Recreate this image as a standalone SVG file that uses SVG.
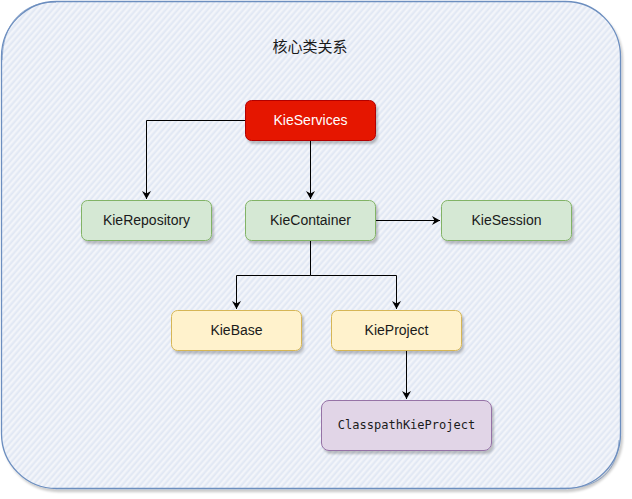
<svg xmlns="http://www.w3.org/2000/svg" width="632" height="499" viewBox="0 0 632 499">
<defs>
<style>
.node rect{filter:url(#sh);}
.lbl{font-family:"Liberation Sans",Arial,sans-serif;font-size:14px;text-anchor:middle;dominant-baseline:central;fill:#1a1a1a;}
.mono{font-family:"DejaVu Sans Mono","Liberation Mono",monospace;font-size:12px;text-anchor:middle;dominant-baseline:central;fill:#1a1a1a;}
.green{fill:#d5e8d4;stroke:#82b366;stroke-width:1;}
.yellow{fill:#fff2cc;stroke:#d6b656;stroke-width:1;}
.purple{fill:#e1d5e7;stroke:#9673a6;stroke-width:1;}
.red{fill:#e51400;stroke:#b20000;stroke-width:1;}
.edge{fill:none;stroke:#000;stroke-width:1;marker-end:url(#arr);}
</style>
<filter id="sh" x="-10%" y="-10%" width="130%" height="140%">
<feDropShadow dx="2" dy="3" stdDeviation="1.2" flood-color="#000" flood-opacity="0.22"/>
</filter>
<filter id="shb" x="-5%" y="-5%" width="110%" height="110%">
<feDropShadow dx="2" dy="3" stdDeviation="1" flood-color="#000" flood-opacity="0.2"/>
</filter>
<pattern id="hatch" width="4.5" height="4.5" patternUnits="userSpaceOnUse" patternTransform="rotate(-49)">
<rect width="4.5" height="4.5" fill="#eef1f7"/>
<line x1="0" y1="1" x2="4.5" y2="1" stroke="#d9e3f3" stroke-width="1"/>
<line x1="0" y1="3.2" x2="4.5" y2="3.2" stroke="#f5f7fb" stroke-width="0.7"/>
</pattern>
<marker id="arr" markerWidth="10" markerHeight="10" refX="8" refY="4.5" orient="auto" markerUnits="userSpaceOnUse">
<path d="M0,0 L8,4.5 L0,9 L2.5,4.5 Z" fill="#000"/>
</marker>
</defs>
<g id="container">
<rect x="1.5" y="1.5" width="619" height="487" rx="55" ry="55" fill="url(#hatch)" stroke="#6c8ebf" stroke-width="1.3" filter="url(#shb)"/>
<path d="M56,2.2 C40,1.5 3,8 2.2,60" fill="none" stroke="#6c8ebf" stroke-width="0.8" opacity="0.8"/>
<path d="M619,440 C617,478 590,489.5 560,488.3" fill="none" stroke="#6c8ebf" stroke-width="0.8" opacity="0.8"/>
<text x="310" y="46" font-family="'Liberation Sans','Noto Sans CJK SC',sans-serif" font-size="15" text-anchor="middle" dominant-baseline="central" fill="#1a1a1a">核心类关系</text>
</g>
<g id="connectors">
<path class="edge" d="M245.5,120.5 H146.5 V199"/>
<path class="edge" d="M310.5,140.5 V199"/>
<path class="edge" d="M375.5,220.5 H440"/>
<path class="edge" d="M310.5,240.5 V275.5 H236.5 V309"/>
<path class="edge" d="M310.5,275.5 H396.5 V309"/>
<path class="edge" d="M406.5,350.5 V399"/>
</g>
<g id="KieServices" class="node">
<rect class="red" x="245.5" y="100.5" width="130" height="40" rx="6"/>
<text class="lbl" x="310.5" y="120" style="fill:#ffffff">KieServices</text>
</g>
<g id="KieRepository" class="node">
<rect class="green" x="81.5" y="200.5" width="130" height="40" rx="6"/>
<text class="lbl" x="146.5" y="220">KieRepository</text>
</g>
<g id="KieContainer" class="node">
<rect class="green" x="245.5" y="200.5" width="130" height="40" rx="6"/>
<text class="lbl" x="310.5" y="220">KieContainer</text>
</g>
<g id="KieSession" class="node">
<rect class="green" x="441.5" y="200.5" width="130" height="40" rx="6"/>
<text class="lbl" x="506.5" y="220">KieSession</text>
</g>
<g id="KieBase" class="node">
<rect class="yellow" x="171.5" y="310.5" width="130" height="40" rx="6"/>
<text class="lbl" x="236.5" y="330">KieBase</text>
</g>
<g id="KieProject" class="node">
<rect class="yellow" x="331.5" y="310.5" width="130" height="40" rx="6"/>
<text class="lbl" x="396.5" y="330">KieProject</text>
</g>
<g id="ClasspathKieProject" class="node">
<rect class="purple" x="321.5" y="400.5" width="170" height="50" rx="7.5"/>
<text class="mono" x="406.5" y="425">ClasspathKieProject</text>
</g>
</svg>
